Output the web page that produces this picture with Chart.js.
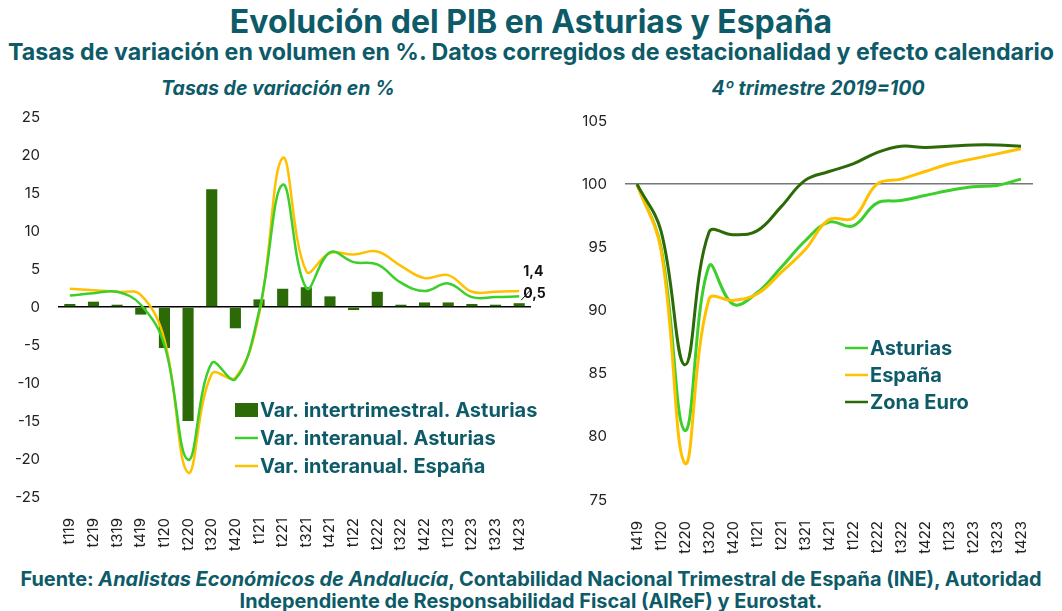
<!DOCTYPE html>
<html>
<head>
<meta charset="utf-8">
<script src="https://cdn.jsdelivr.net/npm/chart.js@4.4.0/dist/chart.umd.min.js"></script>
<style>
  body { margin: 0; background: #fff; }
  #page { position: relative; width: 1062px; height: 611px; overflow: hidden; font-family: Inter, "Open Sans", sans-serif; color: #0d5a68; }
  .txt { position: absolute; white-space: nowrap; text-align: center; font-weight: 700; }
  #title { left: 0; width: 1062px; top: 4px; font-size: 32px; line-height: 36px; }
  #subtitle { left: 0; width: 1062px; top: 39px; font-size: 23.2px; line-height: 26px; }
  .panel { top: 77px; font-size: 19.5px; line-height: 22px; font-style: italic; }
  #pLeft { left: 118px; width: 320px; }
  #pRight { left: 658px; width: 320px; }
  .foot { left: 0; width: 1062px; font-size: 19.9px; line-height: 22px; }
  #f1 { top: 568px; }
  #f2 { top: 590px; }
  canvas { position: absolute; }
  #leftChart { left: 0; top: 90px; }
  #rightChart { left: 560px; top: 94px; }
</style>
</head>
<body>
<div id="page">
  <div id="title" class="txt">Evolución del PIB en Asturias y España</div>
  <div id="subtitle" class="txt">Tasas de variación en volumen en %. Datos corregidos de estacionalidad y efecto calendario</div>
  <div id="pLeft" class="txt panel">Tasas de variación en %</div>
  <div id="pRight" class="txt panel">4º trimestre 2019=100</div>
  <canvas id="leftChart" width="560" height="470"></canvas>
  <canvas id="rightChart" width="502" height="466"></canvas>
  <div id="f1" class="txt foot">Fuente: <i>Analistas Económicos de Andalucía</i>, Contabilidad Nacional Trimestral de España (INE), Autoridad</div>
  <div id="f2" class="txt foot">Independiente de Responsabilidad Fiscal (AIReF) y Eurostat.</div>
</div>
<script>
// left panel: rates of change
const quartersLeft = ["t119", "t219", "t319", "t419", "t120", "t220", "t320", "t420", "t121", "t221",
  "t321", "t421", "t122", "t222", "t322", "t422", "t123", "t223", "t323", "t423"];
const interTrimAsturias = [0.4, 0.7, 0.3, -1.0, -5.4, -15.0, 15.5, -2.8, 1.0, 2.4,
  2.6, 1.4, -0.4, 2.0, 0.3, 0.6, 0.6, 0.4, 0.3, 0.5];
const interAnualAsturias = [1.5, 1.8, 2.0, 0.3, -5.0, -20.1, -7.4, -9.5, -0.6, 16.1,
  2.5, 7.2, 5.9, 5.6, 3.2, 2.1, 3.1, 1.3, 1.3, 1.4];
const interAnualEspana = [2.4, 2.2, 2.0, 1.6, -4.3, -21.8, -8.8, -9.3, -1.0, 19.6,
  4.7, 7.1, 6.9, 7.3, 5.4, 3.8, 4.2, 2.0, 2.0, 2.1];
const leftTicks = [-25, -20, -15, -10, -5, 0, 5, 10, 15, 20, 25];

// right panel: index 4Q2019 = 100
const quartersRight = ["t419", "t120", "t220", "t320", "t420", "t121", "t221", "t321", "t421",
  "t122", "t222", "t322", "t422", "t123", "t223", "t323", "t423"];
const indexAsturias = [100, 95.0, 80.5, 93.5, 90.5, 91.4, 93.4, 95.5, 97.0,
  96.7, 98.5, 98.7, 99.1, 99.5, 99.8, 99.9, 100.4];
const indexEspana = [100, 94.8, 77.9, 90.9, 90.8, 91.3, 93.0, 94.8, 97.2,
  97.3, 100.0, 100.4, 101.0, 101.6, 102.0, 102.4, 102.8];
const indexZonaEuro = [100, 96.3, 85.7, 96.2, 96.0, 96.3, 98.2, 100.3, 101.0,
  101.6, 102.5, 103.0, 102.9, 103.0, 103.1, 103.1, 103.0];
const rightTicks = [75, 80, 85, 90, 95, 100, 105];

const TEAL = "#0d5a68";
const BAR_GREEN = "#2b6a06";
const LIGHT_GREEN = "#3ccf2c";
const ORANGE = "#ffc000";
const DARK_GREEN = "#2b6a06";
const FONT = "Inter, 'Open Sans', sans-serif";

// legend drawn at fixed spot inside the canvas
const fixedLegend = {
  id: "fixedLegend",
  afterDraw(chart, args, opts) {
    const ctx = chart.ctx;
    ctx.save();
    ctx.font = "700 " + opts.size + "px " + FONT;
    ctx.textBaseline = "middle";
    chart.data.datasets.forEach((ds, i) => {
      const y = opts.y + i * opts.rowH;
      const isBar = (ds.type || chart.config.type) === "bar";
      if (isBar) {
        ctx.fillStyle = ds.backgroundColor;
        ctx.fillRect(opts.x, y - 7, opts.boxW, 14);
      } else {
        ctx.strokeStyle = ds.borderColor;
        ctx.lineWidth = 2.5;
        ctx.beginPath();
        ctx.moveTo(opts.x, y);
        ctx.lineTo(opts.x + opts.boxW, y);
        ctx.stroke();
      }
      ctx.fillStyle = TEAL;
      ctx.fillText(ds.label, opts.x + opts.boxW + 2, y + 1);
    });
    ctx.restore();
  }
};

// value labels for the last quarter
const lastLabels = {
  id: "lastLabels",
  afterDatasetsDraw(chart) {
    const ctx = chart.ctx;
    const x = chart.scales.x;
    const y = chart.scales.y;
    const last = quartersLeft.length - 1;
    const px = x.getPixelForValue(last);
    const fmt = v => v.toFixed(1).replace(".", ",");
    ctx.save();
    ctx.font = "700 14px " + FONT;
    ctx.fillStyle = "#111";
    ctx.textAlign = "left";
    ctx.textBaseline = "middle";
    const yLine = y.getPixelForValue(interAnualAsturias[last]);
    ctx.fillText(fmt(interAnualAsturias[last]), px + 4, yLine - 25);
    const yBar = y.getPixelForValue(interTrimAsturias[last]);
    ctx.fillText(fmt(interTrimAsturias[last]), px + 4, yBar - 9);
    ctx.strokeStyle = "#111";
    ctx.lineWidth = 1;
    ctx.beginPath();
    ctx.moveTo(px + 2, yBar - 3);
    ctx.lineTo(px + 12, yBar - 14);
    ctx.stroke();
    ctx.restore();
  }
};

function tickFont() {
  return { family: FONT, size: 15 };
}

new Chart(document.getElementById("leftChart"), {
  type: "bar",
  data: {
    labels: quartersLeft,
    datasets: [{
      label: "Var. intertrimestral. Asturias",
      data: interTrimAsturias,
      backgroundColor: BAR_GREEN,
      barPercentage: 0.47,
      categoryPercentage: 1,
      order: 3
    }, {
      type: "line",
      label: "Var. interanual. Asturias",
      data: interAnualAsturias,
      borderColor: LIGHT_GREEN,
      borderWidth: 2.5,
      pointRadius: 0,
      tension: 0.4,
      order: 1
    }, {
      type: "line",
      label: "Var. interanual. España",
      data: interAnualEspana,
      borderColor: ORANGE,
      borderWidth: 2.5,
      pointRadius: 0,
      tension: 0.4,
      order: 2
    }]
  },
  options: {
    responsive: false,
    devicePixelRatio: 1,
    animation: false,
    layout: { autoPadding: false, padding: { top: 0, right: 29, left: 0, bottom: 0 } },
    plugins: {
      legend: { display: false },
      tooltip: { enabled: false },
      fixedLegend: { x: 235, y: 320, rowH: 28, boxW: 23, size: 20 }
    },
    scales: {
      x: {
        grid: { display: false },
        border: { display: false },
        ticks: { color: "#222", font: tickFont(), minRotation: 90, maxRotation: 90, padding: 13, autoSkip: false },
        afterFit: s => { s.height = 63; }
      },
      y: {
        min: -25, max: 25,
        afterBuildTicks: s => { s.ticks = leftTicks.map(v => ({ value: v })); },
        grid: {
          drawTicks: false,
          lineWidth: 1.5,
          color: c => (c.tick && c.tick.value === 0 ? "#000" : "rgba(0,0,0,0)")
        },
        border: { display: false },
        ticks: { color: "#222", font: tickFont(), padding: 18 },
        afterFit: s => { s.width = 58; }
      }
    }
  },
  plugins: [fixedLegend, lastLabels]
});

new Chart(document.getElementById("rightChart"), {
  type: "line",
  data: {
    labels: quartersRight,
    datasets: [{
      label: "Asturias",
      data: indexAsturias,
      borderColor: LIGHT_GREEN,
      borderWidth: 3,
      pointRadius: 0,
      tension: 0.4,
      order: 2
    }, {
      label: "España",
      data: indexEspana,
      borderColor: ORANGE,
      borderWidth: 3,
      pointRadius: 0,
      tension: 0.4,
      order: 1
    }, {
      label: "Zona Euro",
      data: indexZonaEuro,
      borderColor: DARK_GREEN,
      borderWidth: 3,
      pointRadius: 0,
      tension: 0.4,
      order: 0
    }]
  },
  options: {
    responsive: false,
    devicePixelRatio: 1,
    animation: false,
    layout: { autoPadding: false, padding: { top: 0, right: 29, left: 0, bottom: 0 } },
    plugins: {
      legend: { display: false },
      tooltip: { enabled: false },
      fixedLegend: { x: 285, y: 254, rowH: 27, boxW: 23, size: 20 }
    },
    scales: {
      x: {
        offset: true,
        grid: { display: false },
        border: { display: false },
        ticks: { color: "#222", font: tickFont(), minRotation: 90, maxRotation: 90, padding: 13, autoSkip: false },
        afterFit: s => { s.height = 60; }
      },
      y: {
        min: 75, max: 105,
        afterBuildTicks: s => { s.ticks = rightTicks.map(v => ({ value: v })); },
        grid: {
          drawTicks: false,
          lineWidth: 1.5,
          color: c => (c.tick && c.tick.value === 100 ? "#777" : "rgba(0,0,0,0)")
        },
        border: { display: false },
        ticks: { color: "#222", font: tickFont(), padding: 18 },
        afterFit: s => { s.width = 65; }
      }
    }
  },
  plugins: [fixedLegend]
});
</script>
</body>
</html>
